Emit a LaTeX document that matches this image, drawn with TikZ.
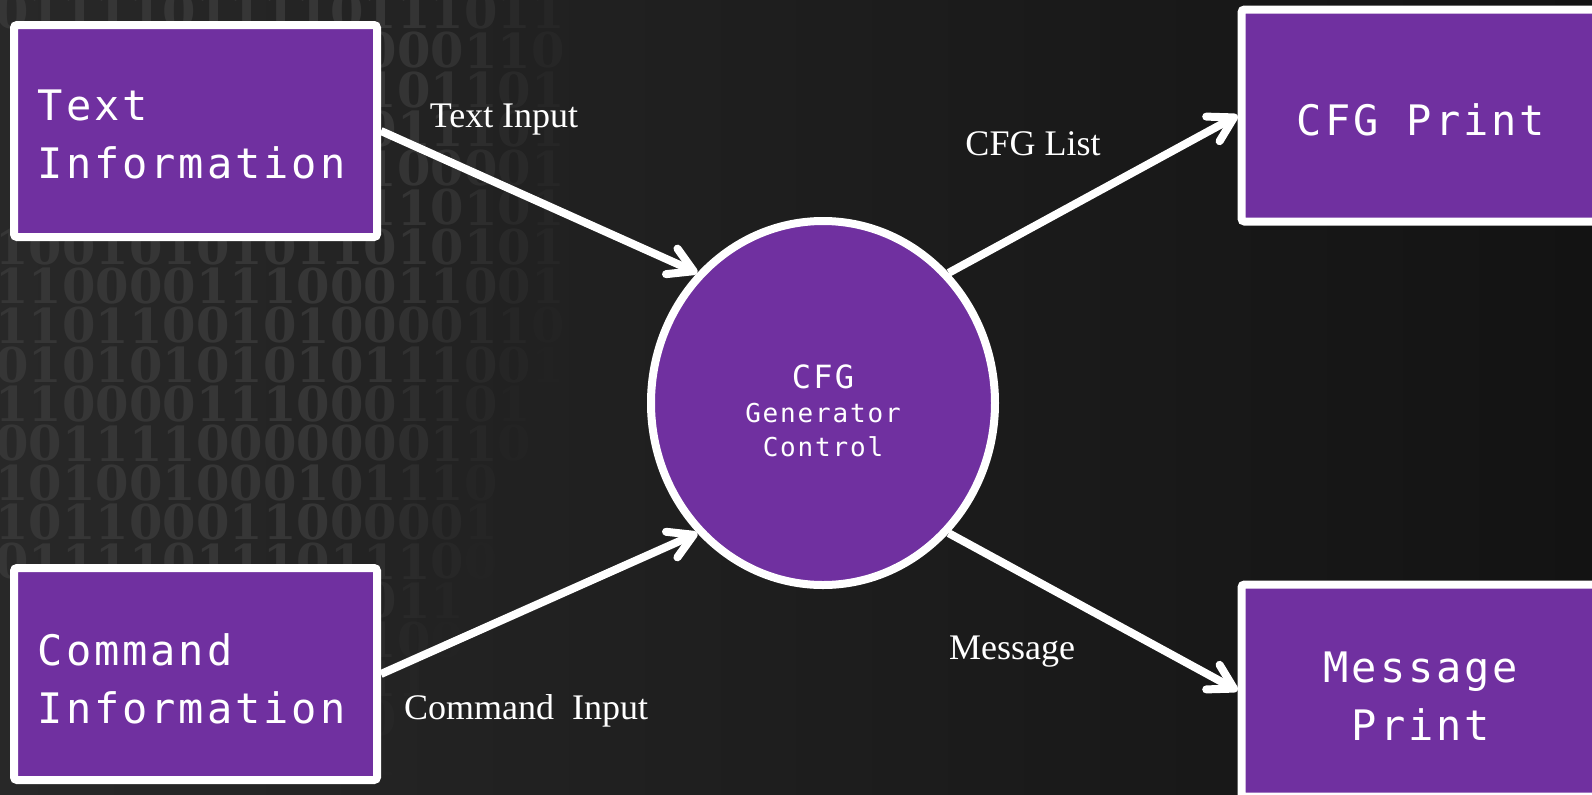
\documentclass[tikz,border=0pt]{standalone}
\usepackage{fontspec}
\setmainfont{Liberation Serif}
\newfontfamily\boxfont[LetterSpace=7]{DejaVu Sans Mono}
\newfontfamily\digitfont{DejaVu Serif}
\usetikzlibrary{shapes.geometric,arrows.meta}
\definecolor{cfgpurple}{HTML}{7030A0}
\definecolor{bgL}{HTML}{282828}
\definecolor{bgR}{HTML}{131313}
\definecolor{digitgray}{HTML}{363636}
\newcommand\digitrow[3]{%
  \foreach \d [count=\i] in {#3} {%
    \pgfmathsetmacro\xx{12+33.5*(\i-1)}%
    \pgfmathsetmacro\yy{11+39.3*#1}%
    \pgfmathsetmacro\al{max(0,min(1,(#2-\xx)/200))}%
    \pgfmathtruncatemacro\dvis{((\xx<370)&&(((\yy>30)&&(\yy<230))||(\yy>590)))?0:1}%
    \ifnum\dvis=1
      \node[digit, text opacity=\al] (d-#1-\i) at (\xx,\yy) {\d};
    \fi
  }%
}
\tikzset{
  digit/.style={inner sep=0pt, text=digitgray, font=\digitfont\bfseries\fontsize{24}{24}\selectfont},
  infobox/.style={draw=white, line width=4pt, fill=cfgpurple, rounded corners=1.5pt,
    minimum width=181.5pt, minimum height=106pt, inner sep=0pt},
  boxtext/.style={inner sep=0pt, text=white, font=\boxfont\fontsize{21}{29}\selectfont},
  hub/.style={ellipse, draw=white, line width=4pt, fill=cfgpurple, minimum width=172pt,
    minimum height=182pt, inner sep=0pt},
  hubtext/.style={inner sep=0pt, text=white, align=center,
    font=\boxfont\fontsize{13}{17}\selectfont},
  flowlabel/.style={text=white, inner sep=0pt, font=\fontsize{18}{20}\selectfont},
  flow/.style={draw=white, line width=4pt, -{Straight Barb[length=12pt,width=14pt,round]}},
}
\begin{document}
\begin{tikzpicture}[x=0.5pt,y=-0.5pt]
\useasboundingbox (0,0) rectangle (1592,794);
\shade[left color=bgL, right color=bgR] (0,0) rectangle (1592,794);
% background binary digits
\digitrow{0}{600}{0,1,1,1,1,0,1,1,1,1,0,1,1,1,0,1,1}
\digitrow{1}{600}{1,0,1,1,0,0,1,0,1,1,1,0,0,0,1,1,0}
\digitrow{2}{600}{0,1,1,0,1,0,0,1,1,0,1,1,0,1,1,0,1}
\digitrow{3}{600}{1,0,0,1,0,1,1,0,0,1,1,0,1,1,1,0,1}
\digitrow{4}{600}{0,1,1,0,0,1,0,1,1,0,1,1,0,0,0,0,1}
\digitrow{5}{600}{1,1,0,1,0,0,1,1,0,1,0,1,1,0,1,0,1}
\digitrow{6}{600}{1,0,0,1,0,1,0,1,0,1,1,0,1,0,1,0,1}
\digitrow{7}{590}{1,1,0,0,0,0,1,1,1,0,0,0,1,1,0,0,1}
\digitrow{8}{570}{1,1,0,1,1,0,0,1,0,1,0,0,0,0,1,1,0}
\digitrow{9}{560}{0,1,0,1,0,1,0,1,0,1,0,1,1,1,0,0,1}
\digitrow{10}{540}{1,1,0,0,0,0,1,1,1,0,0,0,1,1,0,1,0}
\digitrow{11}{540}{0,0,1,1,1,1,0,0,0,0,0,0,0,1,1,0,1}
\digitrow{12}{520}{1,0,1,0,0,1,0,0,0,1,0,1,1,1,0,1,0}
\digitrow{13}{520}{1,0,1,1,0,0,0,1,1,0,0,0,0,0,1,1,0}
\digitrow{14}{500}{0,1,1,1,1,0,1,1,1,0,1,1,1,0,0,1,1}
\digitrow{15}{480}{1,0,0,1,0,1,1,0,0,0,1,0,1,1,0,1,0}
\digitrow{16}{460}{0,1,1,0,1,0,0,1,1,1,0,1,0,0,1,1,0}
\digitrow{17}{440}{1,1,0,1,0,1,1,0,1,0,0,1,1,0,1,0,1}
\digitrow{18}{420}{0,0,1,1,0,1,0,1,1,0,1,0,0,1,1,0,0}
\digitrow{19}{400}{1,1,0,1,1,0,1,0,0,1,1,1,0,1,0,1,1}
% boxes and hub
\node[infobox] (ti) at (195.5,131) {};
\node[infobox] (ci) at (195.5,674) {};
\node[infobox] (cp) at (1423,115.5) {};
\node[infobox] (mp) at (1423,690.5) {};
\node[hub] (c) at (823,403) {};
% texts
\node[boxtext, align=left, anchor=west] (tit) at (37.5,134) {Text\\Information};
\node[boxtext, align=left, anchor=west] (cit) at (37.5,679) {Command\\Information};
\node[boxtext, align=center] (cpt) at (1421,119.5) {CFG Print};
\node[boxtext, align=center] (mpt) at (1421,696) {Message\\Print};
\node[hubtext] (ct) at (823,411) {{\fontsize{16}{18}\selectfont CFG}\\Generator\\Control};
% connectors
\draw[flow] (ti.east) -- (c.134);
\draw[flow] (ci.east) -- (c.226);
\draw[flow] (c.46) -- (cp.west);
\draw[flow] (c.-46) -- (mp.west);
% labels
\node[flowlabel] (l1) at (504,120) {Text Input};
\node[flowlabel] (l2) at (1033,144) {CFG List};
\node[flowlabel] (l3) at (526,711) {Command\ \ Input};
\node[flowlabel] (l4) at (1012,652) {Message};
\end{tikzpicture}
\end{document}
